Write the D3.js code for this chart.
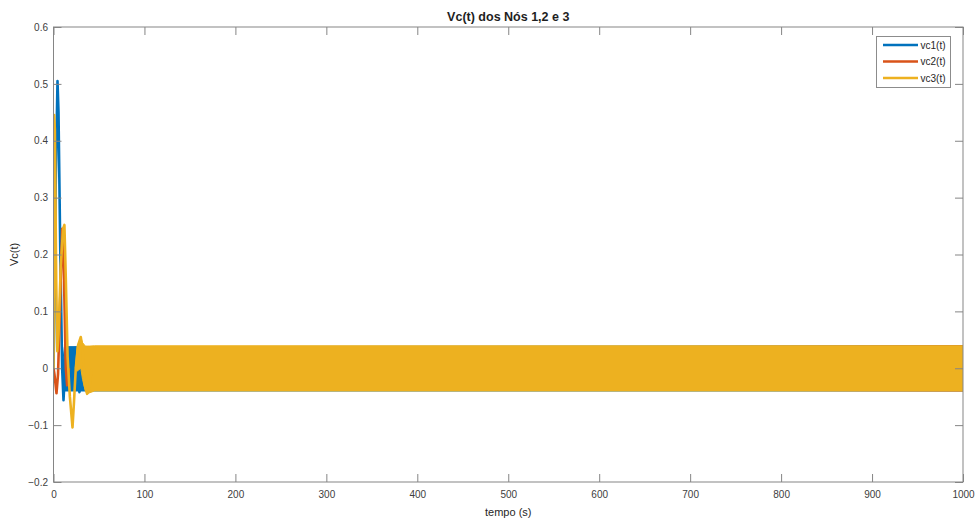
<!DOCTYPE html>
<html>
<head>
<meta charset="utf-8">
<script src="https://cdn.jsdelivr.net/npm/d3@7"></script>
<style>
  html, body { margin: 0; padding: 0; background: #fff; }
  svg { display: block; font-family: "Liberation Sans", Arial, Helvetica, sans-serif; }
</style>
</head>
<body>
<svg id="chart" width="976" height="523"></svg>
<script>
// ---------- data ----------
const xTicks = [0, 100, 200, 300, 400, 500, 600, 700, 800, 900, 1000];
const yTicks = [-0.2, -0.1, 0, 0.1, 0.2, 0.3, 0.4, 0.5, 0.6];
const seriesNames = ["vc1(t)", "vc2(t)", "vc3(t)"];
const seriesColors = ["#0072BD", "#D95319", "#EDB120"];

// transient (start-up) part of each node voltage
const vc1Time  = [0, 1, 2.5, 4.4, 5.5, 7.5, 9.5, 11, 12.5, 14, 16, 18.5, 21, 24, 28.5, 31];
const vc1Value = [0, 0.10, 0.33, 0.505, 0.45, 0.20, 0.0, -0.056, -0.01, 0.036, 0.0, -0.036, 0.0, 0.036, -0.042, 0.0];
const vc2Time  = [0, 1, 3.3, 5, 7, 9.5, 10.5, 12, 13.5, 15, 17];
const vc2Value = [0, -0.01, -0.044, -0.01, 0.10, 0.245, 0.24, 0.12, 0.0, -0.03, 0.0];
const vc3Time  = [0, 0.7, 1.5, 3, 4.2, 5.5, 8, 10.5, 12, 13.5, 15.5, 18, 20.9, 22.5, 24.5, 27, 30, 32, 34.5, 37, 39.5, 42];
const vc3Value = [0, 0.445, 0.42, 0.15, 0.03, 0.06, 0.18, 0.245, 0.252, 0.16, 0.02, -0.05, -0.104, -0.06, 0.0, 0.04, 0.055, 0.03, -0.03, -0.045, -0.035, 0.0];

// steady-state oscillation envelopes (fast oscillation fills a band)
const vc1BandTime = [9.5, 12, 27, 28.5, 30, 1000];
const vc1BandHigh = [0.0, 0.038, 0.038, 0.038, 0.038, 0.0395];
const vc1BandLow  = [0.0, -0.040, -0.040, -0.042, -0.040, -0.040];
const vc2BandTime = [33, 36, 1000];
const vc2BandHigh = [0.0, 0.036, 0.0395];
const vc2BandLow  = [0.0, -0.036, -0.040];
const vc3BandTime = [24, 26, 30, 32, 35, 37, 40, 45, 1000];
const vc3BandHigh = [0.0, 0.038, 0.055, 0.045, 0.039, 0.039, 0.039, 0.0395, 0.0395];
const vc3BandLow  = [0.0, -0.005, 0.0, -0.02, -0.040, -0.045, -0.043, -0.040, -0.040];

// ---------- layout ----------
const svg = d3.select("#chart");
const L = 53.5, R = 963, T = 27, B = 482;
const x = d3.scaleLinear().domain([0, 1000]).range([L, R]);
const y = d3.scaleLinear().domain([-0.2, 0.6]).range([B, T]);

const axisColor = "#858585";
const textColor = "#404040";

svg.append("defs").append("clipPath").attr("id", "clip")
  .append("rect").attr("x", L).attr("y", T).attr("width", R - L).attr("height", B - T);

// ---------- series ----------
const series = [
  { name: seriesNames[0], color: seriesColors[0], t: vc1Time, v: vc1Value, bt: vc1BandTime, bh: vc1BandHigh, bl: vc1BandLow },
  { name: seriesNames[1], color: seriesColors[1], t: vc2Time, v: vc2Value, bt: vc2BandTime, bh: vc2BandHigh, bl: vc2BandLow },
  { name: seriesNames[2], color: seriesColors[2], t: vc3Time, v: vc3Value, bt: vc3BandTime, bh: vc3BandHigh, bl: vc3BandLow }
];

const plot = svg.append("g").attr("clip-path", "url(#clip)");
const line = d3.line().x(d => x(d[0])).y(d => y(d[1]));
const area = d3.area().x(d => x(d[0])).y0(d => y(d[2])).y1(d => y(d[1]));

series.forEach(s => {
  const g = plot.append("g");
  const bandPts = s.bt.map((t, i) => [t, s.bh[i], s.bl[i]]);
  g.append("path").datum(bandPts).attr("d", area)
    .attr("fill", s.color).attr("stroke", s.color).attr("stroke-width", 1);
  const pts = s.t.map((t, i) => [t, s.v[i]]);
  g.append("path").datum(pts).attr("d", line)
    .attr("fill", "none").attr("stroke", s.color).attr("stroke-width", 2.6)
    .attr("stroke-linejoin", "round");
});

// ---------- axes ----------
const fmtY = d => d === 0 ? "0" : d3.format(".1f")(d);
const gx = svg.append("g").attr("transform", `translate(0,${B})`)
  .call(d3.axisBottom(x).tickValues(xTicks).tickSizeInner(-8).tickSizeOuter(0).tickPadding(9).tickFormat(d3.format("d")));
const gxt = svg.append("g").attr("transform", `translate(0,${T})`)
  .call(d3.axisTop(x).tickValues(xTicks).tickSizeInner(-8).tickSizeOuter(0).tickFormat(""));
const gy = svg.append("g").attr("transform", `translate(${L},0)`)
  .call(d3.axisLeft(y).tickValues(yTicks).tickSizeInner(-8).tickSizeOuter(0).tickPadding(5.5).tickFormat(fmtY));
const gyr = svg.append("g").attr("transform", `translate(${R},0)`)
  .call(d3.axisRight(y).tickValues(yTicks).tickSizeInner(-8).tickSizeOuter(0).tickFormat(""));

[gx, gxt, gy, gyr].forEach(g => {
  g.select(".domain").remove();
  g.selectAll(".tick line").attr("stroke", axisColor);
  g.selectAll(".tick text").attr("fill", textColor).style("font-size", "10px")
    .style("font-family", "'Liberation Sans', Arial, sans-serif");
});

svg.append("rect").attr("x", L).attr("y", T).attr("width", R - L).attr("height", B - T)
  .attr("fill", "none").attr("stroke", axisColor).attr("stroke-width", 1);

// ---------- labels ----------
svg.append("text").attr("x", (L + R) / 2).attr("y", 20.5).attr("text-anchor", "middle")
  .style("font-size", "12.5px").style("font-weight", "bold").attr("fill", "#1e1e1e")
  .text("Vc(t) dos Nós 1,2 e 3");
svg.append("text").attr("x", (L + R) / 2).attr("y", 516).attr("text-anchor", "middle")
  .style("font-size", "11px").attr("fill", "#262626").text("tempo (s)");
svg.append("text").attr("transform", `translate(18,${(T + B) / 2}) rotate(-90)`)
  .attr("text-anchor", "middle").style("font-size", "11px").attr("fill", "#262626").text("Vc(t)");

// ---------- legend ----------
const lg = svg.append("g");
lg.append("rect").attr("x", 876.5).attr("y", 36.5).attr("width", 74).attr("height", 51)
  .attr("fill", "#fff").attr("stroke", "#8c8c8c").attr("stroke-width", 1);
series.forEach((s, i) => {
  const yy = 45 + i * 16.5;
  lg.append("line").attr("x1", 883).attr("x2", 918).attr("y1", yy).attr("y2", yy)
    .attr("stroke", s.color).attr("stroke-width", 2.5);
  lg.append("text").attr("x", 920.5).attr("y", yy).attr("dy", "0.35em")
    .style("font-size", "10px").attr("fill", "#262626").text(s.name);
});
</script>
</body>
</html>
